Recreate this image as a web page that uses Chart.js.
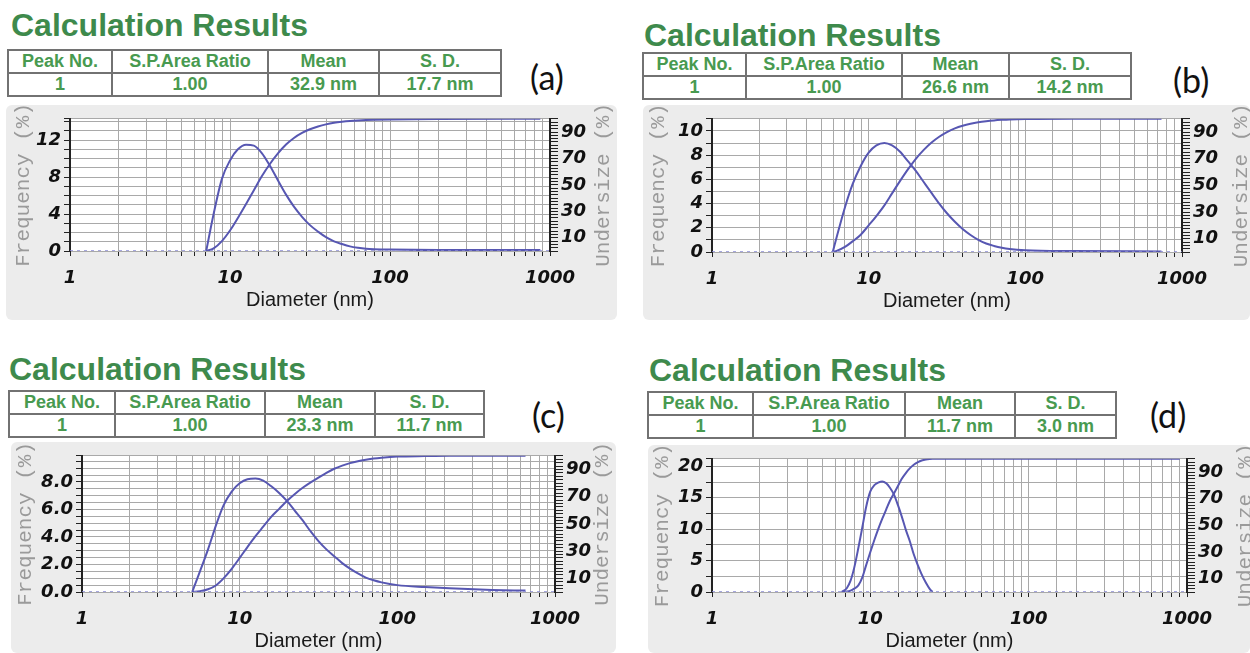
<!DOCTYPE html>
<html>
<head>
<meta charset="utf-8">
<script src="https://cdn.jsdelivr.net/npm/chart.js@4.4.1/dist/chart.umd.min.js"></script>
<style>
  body { margin: 0; width: 1250px; height: 653px; overflow: hidden; background: #fff; position: relative;
         font-family: "Liberation Sans", Arial, sans-serif; }
  .title { position: absolute; font-weight: bold; font-size: 32px; color: #3e8a4c; line-height: 1; white-space: nowrap; }
  table.res { position: absolute; border-collapse: collapse; table-layout: fixed; }
  table.res td { border: 2px solid #727272; padding: 0; text-align: center; font-weight: bold; font-size: 18px;
                 color: #489a50; white-space: nowrap; overflow: hidden; }
  .tag { position: absolute; font-family: Lato, "Open Sans", sans-serif; font-size: 34px; color: #111; line-height: 1; }
  .box { position: absolute; background: #ececec; border-radius: 6px; }
  .box canvas { position: absolute; left: 0; top: 0; }
</style>
</head>
<body>
<script>
// table + labels
const tableHeaders = ['Peak No.', 'S.P.Area Ratio', 'Mean', 'S. D.'];
const panelTags = ['(a)', '(b)', '(c)', '(d)'];
const peakNo = ['1', '1', '1', '1'];
const areaRatio = ['1.00', '1.00', '1.00', '1.00'];
const meanSize = ['32.9 nm', '26.6 nm', '23.3 nm', '11.7 nm'];
const sdSize = ['17.7 nm', '14.2 nm', '11.7 nm', '3.0 nm'];

// axis ticks
const xTickValues = [1, 10, 100, 1000];
const undersizeTicks = [10, 30, 50, 70, 90];
const freqTicksA = [0, 4, 8, 12];
const freqTicksB = [0, 2, 4, 6, 8, 10];
const freqTicksC = [0, 2, 4, 6, 8];
const freqTicksD = [0, 5, 10, 15, 20];

// (a) diameter (nm), frequency (%), undersize (%)
const diamA = [7.1, 7.9, 8.9, 10, 11.2, 12.6, 14.1, 15.8, 17.8, 20, 22.4, 25.1, 28.2, 31.6, 35.5, 39.8, 44.7, 50.1, 56.2, 63.1, 70.8, 79.4, 100, 200, 870];
const freqA = [0, 4.0, 7.8, 9.8, 11.0, 11.5, 11.4, 10.6, 9.2, 7.6, 6.1, 4.8, 3.7, 2.8, 2.1, 1.5, 1.05, 0.75, 0.5, 0.35, 0.25, 0.2, 0.15, 0.1, 0.1];
const underA = [0, 2, 7.5, 15.5, 25, 35.5, 46, 56.5, 66, 74, 80.5, 85.5, 89.3, 92.1, 94.2, 95.8, 97, 97.8, 98.4, 98.8, 99.1, 99.3, 99.5, 99.8, 100];

// (b)
const diamB = [5.9, 6.3, 7.1, 7.9, 8.9, 10, 11.2, 12.6, 14.1, 15.8, 17.8, 20, 22.4, 25.1, 28.2, 31.6, 35.5, 39.8, 44.7, 50.1, 56.2, 63.1, 70.8, 79.4, 100, 200, 740];
const freqB = [0, 1.4, 3.8, 5.6, 7.1, 8.2, 8.8, 9.0, 8.8, 8.3, 7.5, 6.7, 5.8, 4.9, 4.0, 3.2, 2.5, 1.9, 1.4, 1.0, 0.7, 0.5, 0.35, 0.25, 0.15, 0.08, 0.05];
const underB = [0, 1, 4, 8, 13, 20, 27, 35, 44, 53, 62, 70, 76.5, 82, 86.5, 90, 92.8, 94.8, 96.3, 97.4, 98.2, 98.8, 99.2, 99.5, 99.8, 100, 100];

// (c)
const diamC = [5.0, 5.6, 6.3, 7.1, 7.9, 8.9, 10, 11.2, 12.6, 14.1, 15.8, 17.8, 20, 22.4, 25.1, 28.2, 31.6, 35.5, 39.8, 44.7, 50.1, 56.2, 63.1, 70.8, 79.4, 100, 150, 214, 400, 650];
const freqC = [0, 1.5, 3.1, 4.9, 6.3, 7.3, 7.9, 8.2, 8.25, 8.1, 7.7, 7.2, 6.6, 5.9, 5.2, 4.4, 3.7, 3.1, 2.6, 2.1, 1.7, 1.35, 1.05, 0.85, 0.7, 0.5, 0.36, 0.27, 0.15, 0.1];
const underC = [0, 0.5, 2, 5, 10, 17, 25, 33, 41, 48, 55, 61, 67, 72, 76.5, 80.5, 84, 87.5, 90.5, 92.8, 94.6, 96, 97.1, 98, 98.6, 99.4, 99.8, 100, 100, 100];

// (d)
const diamD = [6.6, 7.1, 7.5, 7.9, 8.4, 8.9, 9.4, 10, 10.6, 11.2, 11.9, 12.6, 13.3, 14.1, 15.0, 15.8, 16.8, 17.8, 18.8, 20, 21.1, 22.4, 23.7, 24.7, 100, 900];
const freqD = [0, 0.6, 1.8, 3.8, 7.0, 10.3, 13.5, 16.0, 17.0, 17.4, 17.6, 17.3, 16.6, 15.5, 13.7, 12.0, 9.8, 8.0, 6.0, 4.2, 2.8, 1.5, 0.5, 0, null, null];
const underD = [0, 0.3, 1, 2.5, 5, 11, 20, 30, 39, 47, 55, 62, 68.5, 74, 80, 85, 89.5, 93, 95.5, 97.5, 98.7, 99.5, 99.9, 100, 100, 100];

// page layout of the four panels
const panels = [
  { diam: diamA, freq: freqA, under: underA, freqTicks: freqTicksA, digits: 0, freqMax: 14.3, gridStep: 1,
    title: [11, 9], table: [7, 49, [102, 154, 109, 120]], tag: [530, 60],
    box: [6, 105, 611, 215], plot: [64, 67, 8, 69], xTitlePad: 8, leftPad: 5, rightDx: 53 },
  { diam: diamB, freq: freqB, under: underB, freqTicks: freqTicksB, digits: 0, freqMax: 11, gridStep: 1,
    title: [644, 19], table: [642, 52, [101, 154, 105, 120]], tag: [1173, 63],
    box: [643, 105, 607, 215], plot: [69, 68, 9, 68], xTitlePad: 7, leftPad: 3, rightDx: 59 },
  { diam: diamC, freq: freqC, under: underC, freqTicks: freqTicksC, digits: 1, freqMax: 9.9, gridStep: 0.5,
    title: [9, 353], table: [8, 390, [104, 148, 108, 107]], tag: [532, 398],
    box: [11, 442, 605, 211], plot: [71, 61, 11, 61], xTitlePad: 0, leftPad: 2, rightDx: 47 },
  { diam: diamD, freq: freqD, under: underD, freqTicks: freqTicksD, digits: 0, freqMax: 21.2, gridStep: 2.5,
    title: [649, 354], table: [647, 391, [103, 150, 108, 99]], tag: [1150, 398],
    box: [648, 445, 602, 208], plot: [64, 63, 10, 61], xTitlePad: 0, leftPad: 2, rightDx: 58 }
];

Chart.defaults.font.family = '"DejaVu Sans", sans-serif';
const tickFont = { family: '"DejaVu Sans", sans-serif', size: 18, weight: 'bold', style: 'italic' };
const curveColor = '#5757b2';

const plotBg = {
  id: 'plotBg',
  beforeDraw(chart) {
    const { ctx, chartArea: a } = chart;
    ctx.save();
    ctx.fillStyle = '#ffffff';
    ctx.fillRect(a.left, a.top, a.right - a.left, a.bottom - a.top);
    ctx.restore();
  }
};

// right axis title reads bottom-to-top like the left one
const rightTitle = {
  id: 'rightTitle',
  afterDraw(chart, args, opts) {
    const { ctx, chartArea: a } = chart;
    ctx.save();
    ctx.translate(a.right + opts.dx, (a.top + a.bottom) / 2);
    ctx.rotate(-Math.PI / 2);
    ctx.font = '21px "Liberation Mono", monospace';
    ctx.fillStyle = '#9a9a9a';
    ctx.textAlign = 'center';
    ctx.textBaseline = 'middle';
    ctx.fillText(opts.text, 0, 0);
    ctx.restore();
  }
};

function place(el, x, y) {
  el.style.left = x + 'px';
  el.style.top = y + 'px';
  document.body.appendChild(el);
}

panels.forEach((p, i) => {
  const t = document.createElement('div');
  t.className = 'title';
  t.textContent = 'Calculation Results';
  place(t, p.title[0], p.title[1]);

  const tbl = document.createElement('table');
  tbl.className = 'res';
  const rows = [tableHeaders, [peakNo[i], areaRatio[i], meanSize[i], sdSize[i]]];
  rows.forEach((r, ri) => {
    const tr = document.createElement('tr');
    tr.style.height = (ri === 0 ? 21 : 22) + 'px';
    r.forEach((txt, ci) => {
      const td = document.createElement('td');
      td.style.width = p.table[2][ci] + 'px';
      td.textContent = txt;
      tr.appendChild(td);
    });
    tbl.appendChild(tr);
  });
  place(tbl, p.table[0], p.table[1]);

  const tag = document.createElement('div');
  tag.className = 'tag';
  tag.textContent = panelTags[i];
  place(tag, p.tag[0], p.tag[1]);

  const box = document.createElement('div');
  box.className = 'box';
  box.style.width = p.box[2] + 'px';
  box.style.height = p.box[3] + 'px';
  const cv = document.createElement('canvas');
  cv.width = p.box[2];
  cv.height = p.box[3];
  box.appendChild(cv);
  place(box, p.box[0], p.box[1]);

  const [pl, pr, pt, pb] = p.plot;
  const isLabel = (v, list) => list.some(l => Math.abs(l - v) < 1e-6);

  new Chart(cv, {
    type: 'line',
    data: {
      datasets: [
        {
          data: [{ x: xTickValues[0], y: 0 }, { x: xTickValues[xTickValues.length - 1], y: 0 }],
          yAxisID: 'y', borderColor: '#8a8ad6', borderWidth: 1.5, borderDash: [3, 4]
        },
        {
          data: p.diam.map((d, k) => ({ x: d, y: p.freq[k] })),
          yAxisID: 'y', borderColor: curveColor, borderWidth: 2
        },
        {
          data: p.diam.map((d, k) => ({ x: d, y: p.under[k] })),
          yAxisID: 'y2', borderColor: curveColor, borderWidth: 2
        }
      ]
    },
    options: {
      responsive: false,
      animation: false,
      layout: { padding: { top: pt, left: 0, right: 0, bottom: 0 } },
      elements: { point: { radius: 0 }, line: { cubicInterpolationMode: 'monotone' } },
      plugins: {
        legend: { display: false },
        tooltip: { enabled: false },
        rightTitle: { text: 'Undersize (%)', dx: p.rightDx }
      },
      scales: {
        x: {
          type: 'logarithmic', min: 1, max: 1000,
          afterFit: s => { s.height = pb; },
          grid: { color: '#a9a9a9', tickColor: '#222', tickLength: 5 },
          border: { display: false },
          ticks: {
            autoSkip: false, maxRotation: 0, minRotation: 0, padding: 12, color: '#111', font: tickFont,
            callback: v => xTickValues.includes(v) ? String(v) : ''
          },
          title: {
            display: true, text: 'Diameter (nm)', color: '#1a1a1a',
            font: { family: '"Liberation Sans", Arial, sans-serif', size: 20 },
            padding: { top: 0, bottom: p.xTitlePad }
          }
        },
        y: {
          position: 'left', min: 0, max: p.freqMax,
          afterFit: s => { s.width = pl; },
          // keep every grid step (Chart.js would swap the last one for max)
          afterBuildTicks: s => {
            const t = [];
            for (let k = 0; k * p.gridStep <= p.freqMax + 1e-9; k++) t.push({ value: +(k * p.gridStep).toFixed(3) });
            if (t[t.length - 1].value < p.freqMax) t.push({ value: p.freqMax });
            s.ticks = t;
          },
          grid: { color: '#a9a9a9', tickColor: '#222', tickLength: 6 },
          border: { color: '#222', width: 2 },
          ticks: {
            autoSkip: false, padding: 3, color: '#111', font: tickFont,
            callback: v => isLabel(v, p.freqTicks) ? Number(v).toFixed(p.digits) : ''
          },
          title: {
            display: true, text: 'Frequency (%)', color: '#9a9a9a',
            font: { family: '"Liberation Mono", monospace', size: 21 },
            padding: { top: p.leftPad, bottom: 0 }
          }
        },
        y2: {
          position: 'right', min: 0, max: 100,
          afterFit: s => { s.width = pr; },
          grid: { drawOnChartArea: false, tickColor: '#222', tickLength: 8 },
          border: { color: '#222', width: 2 },
          ticks: {
            stepSize: 2.5, autoSkip: false, padding: 3, color: '#111', font: tickFont,
            callback: v => isLabel(v, undersizeTicks) ? String(v) : ''
          }
        }
      }
    },
    plugins: [plotBg, rightTitle]
  });
});
</script>
</body>
</html>
